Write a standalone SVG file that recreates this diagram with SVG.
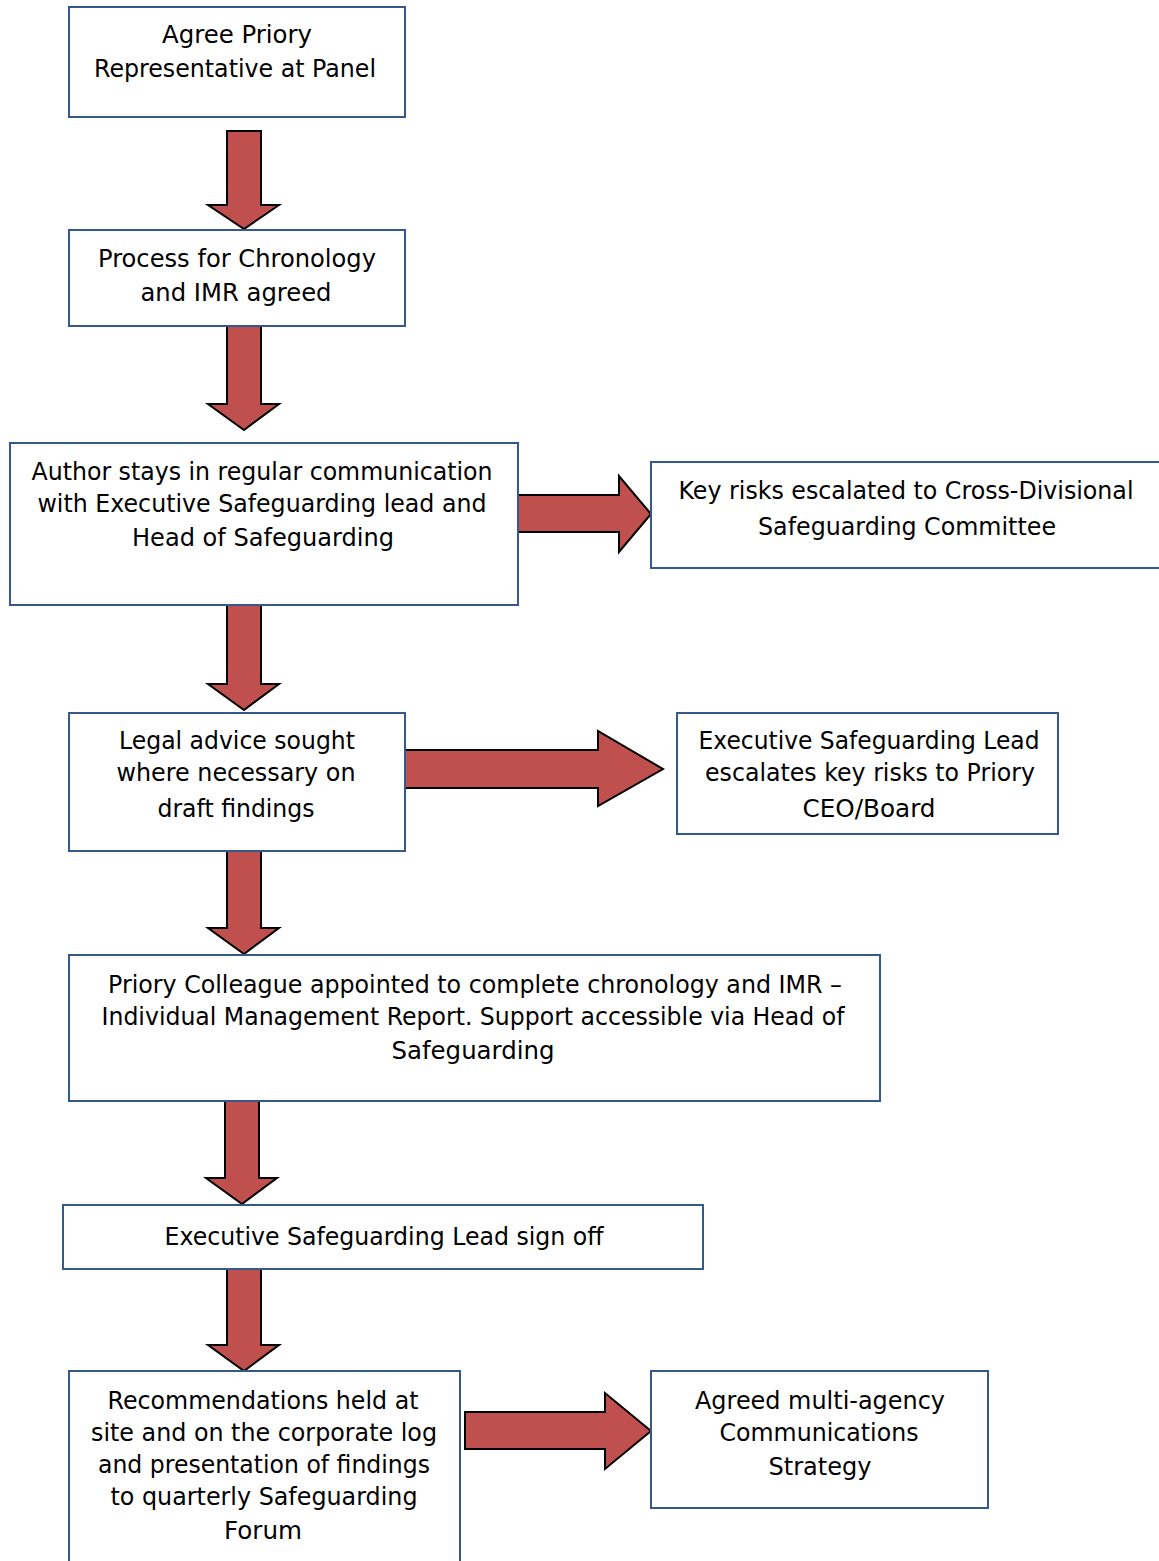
<svg xmlns="http://www.w3.org/2000/svg" width="1159" height="1561" viewBox="0 0 1159 1561">
<style>
.box{fill:#fff;stroke:#35598F;stroke-width:2}
.arr{fill:#C0504D;stroke:#000;stroke-width:2;stroke-linejoin:miter}
text{font-family:"DejaVu Sans","Liberation Sans",sans-serif;font-size:24px;fill:#000;text-anchor:middle}
</style>
<rect width="1159" height="1561" fill="#fff"/>
<g id="connectors">
<polygon class="arr" points="227,131 261,131 261,205 279,205 244,229 208,205 227,205"/>
<polygon class="arr" points="227,326 261,326 261,404 279,404 244,430 208,404 227,404"/>
<polygon class="arr" points="518,495 619,495 619,476 651,514 619,552 619,532 518,532"/>
<polygon class="arr" points="227,605 261,605 261,684 279,684 244,710 208,684 227,684"/>
<polygon class="arr" points="405,750 598,750 598,731 663,769 598,806 598,788 405,788"/>
<polygon class="arr" points="227,851 261,851 261,928 279,928 244,954 208,928 227,928"/>
<polygon class="arr" points="225,1101 259,1101 259,1178 277,1178 242,1204 206,1178 225,1178"/>
<polygon class="arr" points="227,1269 261,1269 261,1345 279,1345 244,1371 208,1345 227,1345"/>
<polygon class="arr" points="465,1412 605,1412 605,1393 651,1431 605,1469 605,1449 465,1449"/>
</g>
<g id="n1"><rect class="box" x="69" y="7" width="336" height="110"/>
<text x="237" y="43" textLength="150" lengthAdjust="spacingAndGlyphs">Agree Priory</text>
<text x="235" y="77" textLength="282" lengthAdjust="spacingAndGlyphs">Representative at Panel</text></g>
<g id="n2"><rect class="box" x="69" y="230" width="336" height="96"/>
<text x="237" y="267" textLength="278" lengthAdjust="spacingAndGlyphs">Process for Chronology</text>
<text x="236" y="301" textLength="191" lengthAdjust="spacingAndGlyphs">and IMR agreed</text></g>
<g id="n3"><rect class="box" x="10" y="443" width="508" height="162"/>
<text x="262" y="480" textLength="461" lengthAdjust="spacingAndGlyphs">Author stays in regular communication</text>
<text x="262" y="512" textLength="449" lengthAdjust="spacingAndGlyphs">with Executive Safeguarding lead and</text>
<text x="263" y="546" textLength="262" lengthAdjust="spacingAndGlyphs">Head of Safeguarding</text></g>
<g id="n4"><rect class="box" x="651" y="462" width="510" height="106"/>
<text x="906" y="499" textLength="455" lengthAdjust="spacingAndGlyphs">Key risks escalated to Cross-Divisional</text>
<text x="907" y="535" textLength="298" lengthAdjust="spacingAndGlyphs">Safeguarding Committee</text></g>
<g id="n5"><rect class="box" x="69" y="713" width="336" height="138"/>
<text x="237" y="749" textLength="236" lengthAdjust="spacingAndGlyphs">Legal advice sought</text>
<text x="236" y="781" textLength="239" lengthAdjust="spacingAndGlyphs">where necessary on</text>
<text x="236" y="817" textLength="157" lengthAdjust="spacingAndGlyphs">draft findings</text></g>
<g id="n6"><rect class="box" x="677" y="713" width="381" height="121"/>
<text x="869" y="749" textLength="341" lengthAdjust="spacingAndGlyphs">Executive Safeguarding Lead</text>
<text x="870" y="781" textLength="330" lengthAdjust="spacingAndGlyphs">escalates key risks to Priory</text>
<text x="869" y="817" textLength="133" lengthAdjust="spacingAndGlyphs">CEO/Board</text></g>
<g id="n7"><rect class="box" x="69" y="955" width="811" height="146"/>
<text x="475" y="993" textLength="734" lengthAdjust="spacingAndGlyphs">Priory Colleague appointed to complete chronology and IMR –</text>
<text x="473" y="1025" textLength="743" lengthAdjust="spacingAndGlyphs">Individual Management Report. Support accessible via Head of</text>
<text x="473" y="1059" textLength="163" lengthAdjust="spacingAndGlyphs">Safeguarding</text></g>
<g id="n8"><rect class="box" x="63" y="1205" width="640" height="64"/>
<text x="384" y="1245" textLength="439" lengthAdjust="spacingAndGlyphs">Executive Safeguarding Lead sign off</text></g>
<g id="n9"><rect class="box" x="69" y="1371" width="391" height="200"/>
<text x="263" y="1409" textLength="311" lengthAdjust="spacingAndGlyphs">Recommendations held at</text>
<text x="264" y="1441" textLength="346" lengthAdjust="spacingAndGlyphs">site and on the corporate log</text>
<text x="264" y="1473" textLength="332" lengthAdjust="spacingAndGlyphs">and presentation of findings</text>
<text x="264" y="1505" textLength="307" lengthAdjust="spacingAndGlyphs">to quarterly Safeguarding</text>
<text x="263" y="1539" textLength="78" lengthAdjust="spacingAndGlyphs">Forum</text></g>
<g id="n10"><rect class="box" x="651" y="1371" width="337" height="137"/>
<text x="820" y="1409" textLength="250" lengthAdjust="spacingAndGlyphs">Agreed multi-agency</text>
<text x="819" y="1441" textLength="199" lengthAdjust="spacingAndGlyphs">Communications</text>
<text x="820" y="1475" textLength="103" lengthAdjust="spacingAndGlyphs">Strategy</text></g>
</svg>
